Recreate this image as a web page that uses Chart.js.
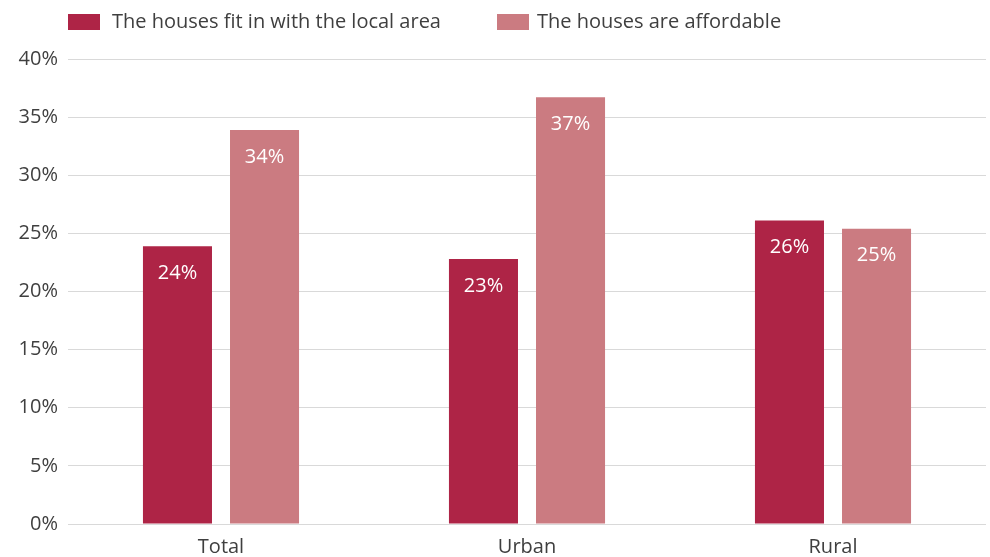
<!DOCTYPE html>
<html>
<head>
<meta charset="utf-8">
<script src="https://cdn.jsdelivr.net/npm/chart.js@4"></script>
<style>
  html, body { margin: 0; padding: 0; background: #fff; }
  #wrap { width: 990px; height: 557px; }
</style>
</head>
<body>
<div id="wrap"><canvas id="chart"></canvas></div>
<script>
const categories = ['Total', 'Urban', 'Rural'];
const fitLocal = [23.9, 22.8, 26.1];
const affordable = [33.9, 36.7, 25.4];
const seriesNames = ['The houses fit in with the local area', 'The houses are affordable'];
const yTicks = [0, 5, 10, 15, 20, 25, 30, 35, 40];

const FONT = '"Open Sans", sans-serif';
const TEXT = '#3f3f3f';

// white value labels inside the top of each bar
const barLabels = {
    id: 'barLabels',
    afterDatasetsDraw(chart) {
        const ctx = chart.ctx;
        ctx.save();
        ctx.fillStyle = '#fff';
        ctx.font = '20px ' + FONT;
        ctx.textAlign = 'center';
        ctx.textBaseline = 'middle';
        chart.data.datasets.forEach((ds, i) => {
            chart.getDatasetMeta(i).data.forEach((bar, j) => {
                ctx.fillText(Math.round(ds.data[j]) + '%', bar.x, bar.y + 27);
            });
        });
        ctx.restore();
    }
};

// legend row at the top, drawn by hand so the spacing matches
const topLegend = {
    id: 'topLegend',
    afterDraw(chart) {
        const ctx = chart.ctx;
        const boxX = [68, 497];
        const textX = [112, 537];
        ctx.save();
        ctx.font = '20px ' + FONT;
        ctx.textBaseline = 'middle';
        chart.data.datasets.forEach((ds, i) => {
            ctx.fillStyle = ds.backgroundColor;
            ctx.fillRect(boxX[i], 14, 32, 16);
            ctx.fillStyle = TEXT;
            ctx.fillText(ds.label, textX[i], 22);
        });
        ctx.restore();
    }
};

new Chart(document.getElementById('chart'), {
    type: 'bar',
    data: {
        labels: categories,
        datasets: [{
            label: seriesNames[0],
            data: fitLocal,
            backgroundColor: '#ae2446'
        }, {
            label: seriesNames[1],
            data: affordable,
            backgroundColor: '#cb7b81'
        }]
    },
    options: {
        responsive: true,
        maintainAspectRatio: false,
        animation: false,
        categoryPercentage: 0.569,
        barPercentage: 0.793,
        layout: { padding: { top: 59, right: 4, left: 0, bottom: 0 } },
        plugins: {
            tooltip: { enabled: false },
            legend: { display: false }
        },
        scales: {
            x: {
                afterFit(scale) { scale.height = 33; },
                grid: { display: false },
                border: { display: false },
                ticks: { color: TEXT, font: { family: FONT, size: 20 }, padding: 3 }
            },
            y: {
                min: 0,
                max: 40,
                afterFit(scale) { scale.width = 68; },
                afterBuildTicks(scale) { scale.ticks = yTicks.map(v => ({ value: v })); },
                grid: { color: '#d9d9d9', drawTicks: false },
                border: { display: false },
                ticks: {
                    color: TEXT,
                    padding: 10,
                    font: { family: FONT, size: 20 },
                    callback: v => v + '%'
                }
            }
        }
    },
    plugins: [barLabels, topLegend]
});
</script>
</body>
</html>
